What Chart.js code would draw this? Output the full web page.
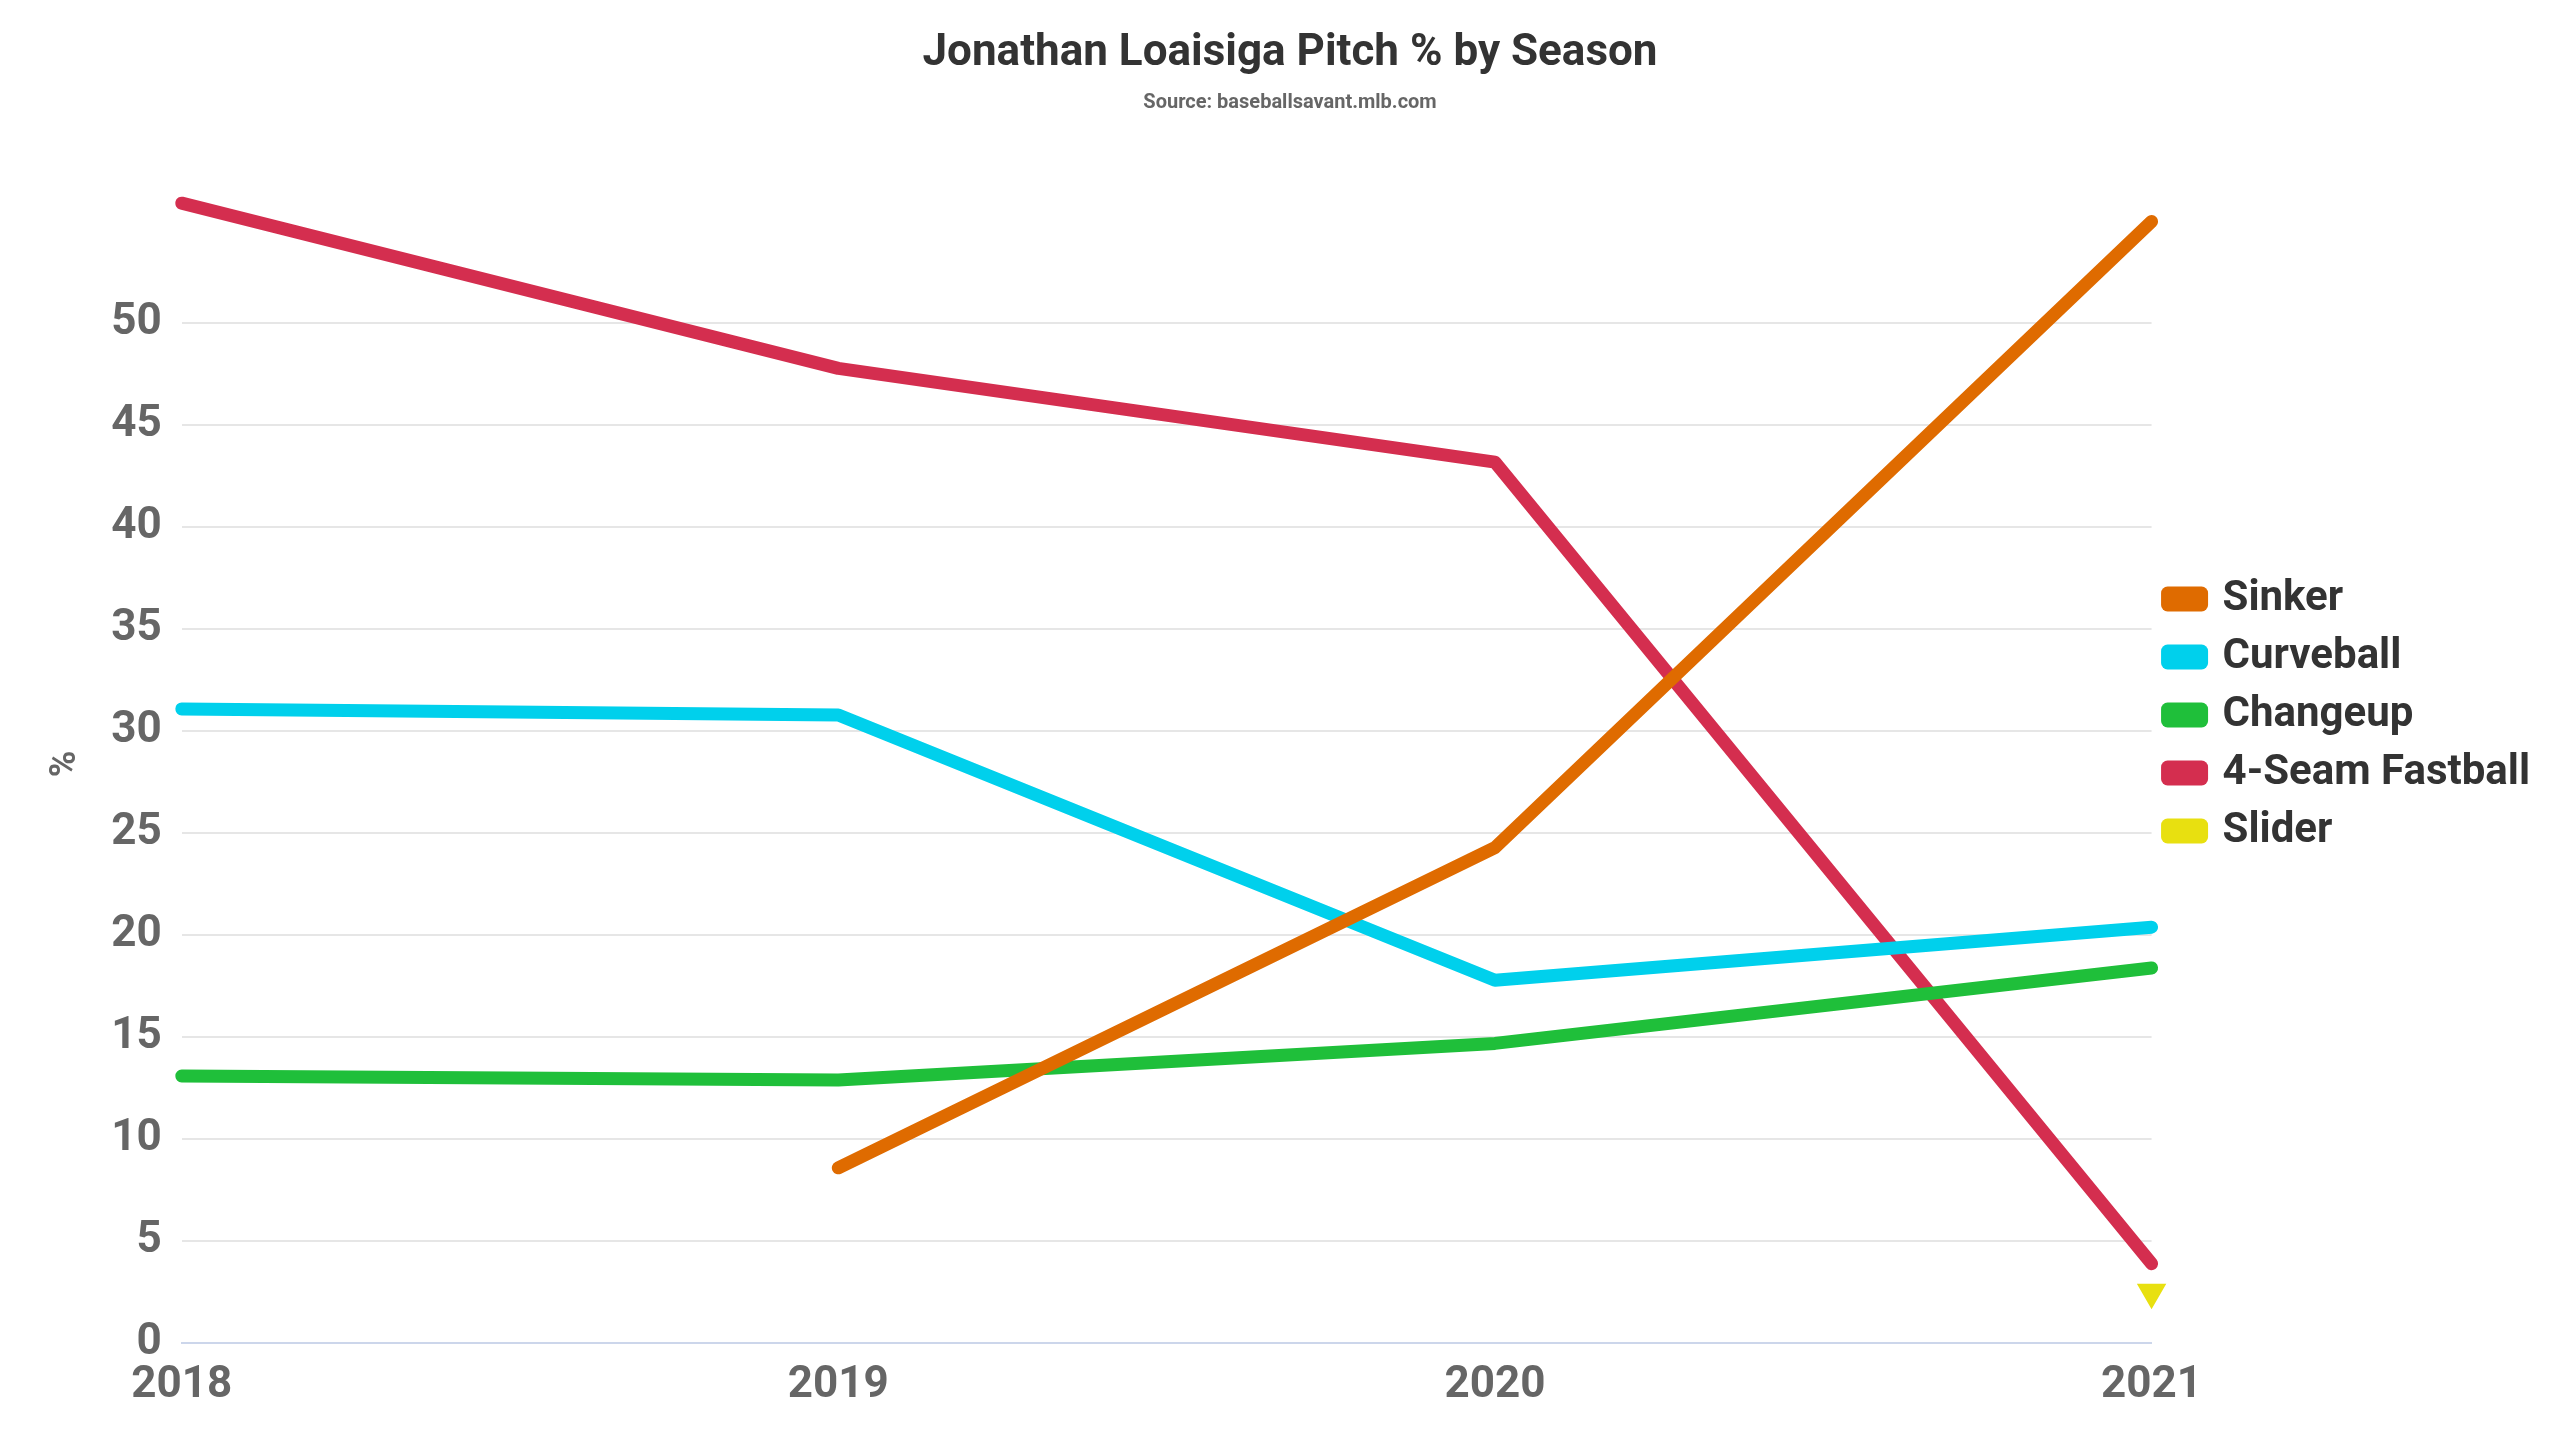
<!DOCTYPE html>
<html>
<head>
<meta charset="utf-8">
<script src="https://cdn.jsdelivr.net/npm/chart.js@4"></script>
<style>
html, body { margin: 0; padding: 0; background: #fff; }
#wrap { width: 2560px; height: 1440px; }
</style>
</head>
<body>
<div id="wrap"><canvas id="pitchChart"></canvas></div>
<script>
const seasons = ['2018', '2019', '2020', '2021'];
const sinker = [null, 8.6, 24.3, 55.0];
const curveball = [31.1, 30.8, 17.8, 20.4];
const changeup = [13.1, 12.9, 14.7, 18.4];
const fastball = [55.9, 47.8, 43.2, 3.9];
const slider = [null, null, null, 2.5];

const font = "Roboto, 'Liberation Sans', sans-serif";

function series(label, data, color, extra) {
    return Object.assign({
        label: label,
        data: data,
        borderColor: color,
        backgroundColor: color,
        borderWidth: 13,
        pointRadius: 0,
        borderCapStyle: 'round',
        borderJoinStyle: 'round',
        tension: 0
    }, extra || {});
}

const ctx = document.getElementById('pitchChart').getContext('2d');
new Chart(ctx, {
    type: 'line',
    data: {
        labels: seasons,
        datasets: [
            series('Sinker', sinker, '#df6b00'),
            series('Curveball', curveball, '#00d0ec'),
            series('Changeup', changeup, '#1fbf3a'),
            series('4-Seam Fastball', fastball, '#d42e4f'),
            series('Slider', slider, '#e8e010', { pointRadius: 4, pointStyle: 'triangle', rotation: 180 })
        ]
    },
    options: {
        responsive: true,
        maintainAspectRatio: false,
        animation: false,
        layout: { padding: { left: 40, right: 20, top: 10, bottom: 20 } },
        plugins: {
            title: {
                display: true,
                text: 'Jonathan Loaisiga Pitch % by Season',
                color: '#333',
                font: { family: font, size: 44, weight: 'bold' },
                padding: { top: 18, bottom: 10 }
            },
            subtitle: {
                display: true,
                text: 'Source: baseballsavant.mlb.com',
                color: '#666',
                font: { family: font, size: 20, weight: 'bold' },
                padding: { bottom: 70 }
            },
            legend: {
                position: 'right',
                align: 'center',
                labels: {
                    color: '#333',
                    font: { family: font, size: 42, weight: 'bold' },
                    boxWidth: 34,
                    boxHeight: 12,
                    padding: 16
                }
            },
            tooltip: { enabled: false }
        },
        scales: {
            x: {
                offset: false,
                grid: { display: false },
                border: { color: '#ccd6eb', width: 2 },
                ticks: { color: '#666', font: { family: font, size: 44, weight: 'bold' }, padding: 8 }
            },
            y: {
                min: 0,
                max: 56.8,
                afterBuildTicks: axis => {
                    axis.ticks = axis.ticks.filter(t => Math.abs(t.value - Math.round(t.value / 5) * 5) < 1e-6);
                },
                ticks: { stepSize: 5, color: '#666', font: { family: font, size: 44, weight: 'bold' }, padding: 20 },
                grid: { color: '#e6e6e6', lineWidth: 2, drawTicks: false },
                border: { display: false },
                title: {
                    display: true,
                    text: '%',
                    color: '#666',
                    font: { family: font, size: 36, weight: 'bold' }
                }
            }
        }
    }
});
</script>
</body>
</html>
